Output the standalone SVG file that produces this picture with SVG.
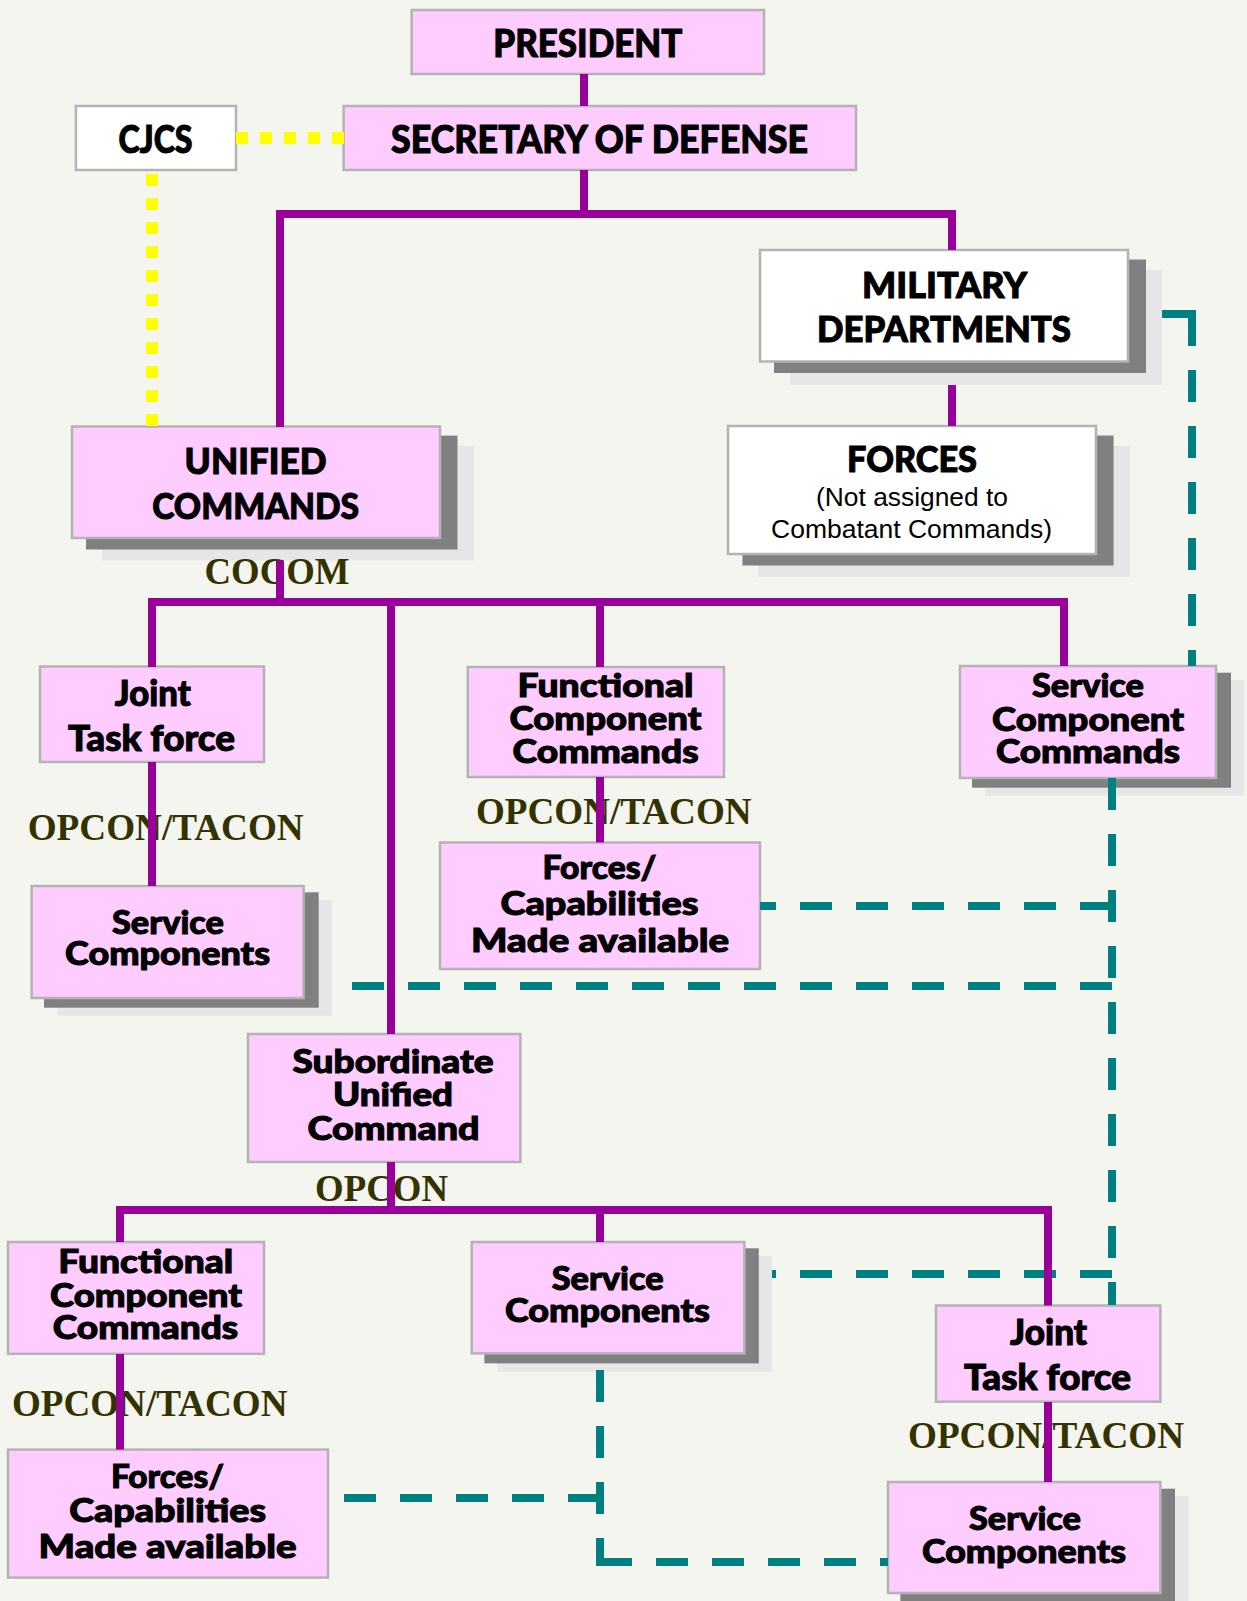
<svg xmlns="http://www.w3.org/2000/svg" width="1247" height="1601" viewBox="0 0 1247 1601">
<style>
.box{fill:#FFCCFF;stroke:#B3B3B3;stroke-width:2.5}
.wbox{fill:#FFFFFF;stroke:#B3B3B3;stroke-width:2.5}
.sh1{fill:#808080}
.sh2{fill:#E6E6E6}
.t{font-family:Lato,'Liberation Sans',sans-serif;font-weight:900;text-anchor:middle;fill:#000;stroke:#000;stroke-width:1}
.big{font-size:37px}
.mid{font-size:36px}
.sm{font-size:33px}
.reg{font-family:'Liberation Sans',Arial,sans-serif;font-size:26px;text-anchor:middle;fill:#000}
.lbl{font-family:'Liberation Serif','Times New Roman',serif;font-weight:bold;font-size:37px;fill:#333300;text-anchor:middle}
.p{fill:none;stroke:#990099;stroke-width:8;stroke-linejoin:miter}
.tl{fill:none;stroke:#008080;stroke-width:8;stroke-dasharray:32 24}
.ts{fill:none;stroke:#008080;stroke-width:8}
.yl{fill:none;stroke:#FFFF00;stroke-width:12;stroke-dasharray:12 12}
</style>
<rect width="1247" height="1601" fill="#F5F5F0"/>

<g id="president">
<rect class="box" x="411.6" y="10" width="352.4" height="64"/>
<text class="t big" x="587.8" y="56.7" textLength="189" lengthAdjust="spacingAndGlyphs">PRESIDENT</text>
</g>
<g id="secdef">
<rect class="box" x="343.6" y="106" width="512.4" height="64"/>
<text class="t big" x="599.6" y="152.7" textLength="417" lengthAdjust="spacingAndGlyphs">SECRETARY OF DEFENSE</text>
</g>
<g id="cjcs">
<rect class="wbox" x="75.9" y="106" width="160.1" height="64"/>
<text class="t big" x="155.6" y="152.7" textLength="74" lengthAdjust="spacingAndGlyphs">CJCS</text>
</g>
<g id="military">
<rect class="sh2" x="790" y="270" width="372" height="115"/>
<rect class="sh1" x="774" y="259.5" width="372" height="113.5"/>
<rect class="wbox" x="760" y="250" width="368" height="111.5"/>
<text class="t mid" x="944.6" y="297.7" textLength="165" lengthAdjust="spacingAndGlyphs">MILITARY</text>
<text class="t mid" x="944" y="341.7" textLength="254" lengthAdjust="spacingAndGlyphs">DEPARTMENTS</text>
</g>
<g id="forces">
<rect class="sh2" x="758" y="446" width="372" height="131"/>
<rect class="sh1" x="742.4" y="435.5" width="371.2" height="130"/>
<rect class="wbox" x="728" y="426" width="368" height="128"/>
<text class="t mid" x="912" y="471.5" textLength="130" lengthAdjust="spacingAndGlyphs">FORCES</text>
<text class="reg" x="912" y="506" textLength="192" lengthAdjust="spacingAndGlyphs">(Not assigned to</text>
<text class="reg" x="911.6" y="537.7" textLength="281" lengthAdjust="spacingAndGlyphs">Combatant Commands)</text>
</g>
<g id="unified">
<rect class="sh2" x="102" y="446" width="372" height="114.5"/>
<rect class="sh1" x="86" y="435.6" width="371.5" height="113.9"/>
<rect class="box" x="72" y="426.5" width="368" height="111.5"/>
<text class="t mid" x="255.6" y="474" textLength="142" lengthAdjust="spacingAndGlyphs">UNIFIED</text>
<text class="t mid" x="255.7" y="518.6" textLength="207" lengthAdjust="spacingAndGlyphs">COMMANDS</text>
</g>
<g id="jtf1">
<rect class="box" x="40" y="666.5" width="224" height="95.5"/>
<text class="t mid" x="152.8" y="705.6" textLength="76" lengthAdjust="spacingAndGlyphs">Joint</text>
<text class="t mid" x="151.6" y="750.7" textLength="167" lengthAdjust="spacingAndGlyphs">Task force</text>
</g>
<g id="fcc1">
<rect class="box" x="467.8" y="667" width="256.2" height="110"/>
<text class="t sm" x="605.6" y="696.6" textLength="176" lengthAdjust="spacingAndGlyphs">Functional</text>
<text class="t sm" x="605.6" y="730" textLength="192" lengthAdjust="spacingAndGlyphs">Component</text>
<text class="t sm" x="605.6" y="763" textLength="186" lengthAdjust="spacingAndGlyphs">Commands</text>
</g>
<g id="scc">
<rect class="sh2" x="985" y="680" width="259" height="115.7"/>
<rect class="sh1" x="972" y="672.7" width="259" height="115"/>
<rect class="box" x="960" y="666" width="256" height="112"/>
<text class="t sm" x="1088" y="696.7" textLength="112" lengthAdjust="spacingAndGlyphs">Service</text>
<text class="t sm" x="1088" y="730.7" textLength="192" lengthAdjust="spacingAndGlyphs">Component</text>
<text class="t sm" x="1088" y="763" textLength="184" lengthAdjust="spacingAndGlyphs">Commands</text>
</g>
<g id="sc1">
<rect class="sh2" x="57.3" y="900" width="274.7" height="115.7"/>
<rect class="sh1" x="44" y="892.3" width="274.7" height="115.4"/>
<rect class="box" x="31.6" y="886" width="272" height="112"/>
<text class="t sm" x="168" y="933.8" textLength="112" lengthAdjust="spacingAndGlyphs">Service</text>
<text class="t sm" x="167.6" y="965.4" textLength="205" lengthAdjust="spacingAndGlyphs">Components</text>
</g>
<g id="fca1">
<rect class="box" x="440" y="842.5" width="320" height="126.5"/>
<text class="t sm" x="599.5" y="879" textLength="114" lengthAdjust="spacingAndGlyphs">Forces/</text>
<text class="t sm" x="599.5" y="915" textLength="198" lengthAdjust="spacingAndGlyphs">Capabilities</text>
<text class="t sm" x="600" y="951.6" textLength="258" lengthAdjust="spacingAndGlyphs">Made available</text>
</g>
<g id="subunified">
<rect class="box" x="248" y="1034" width="272.4" height="128"/>
<text class="t sm" x="393" y="1072.8" textLength="201" lengthAdjust="spacingAndGlyphs">Subordinate</text>
<text class="t sm" x="393" y="1106" textLength="120" lengthAdjust="spacingAndGlyphs">Unified</text>
<text class="t sm" x="393.6" y="1139.5" textLength="172" lengthAdjust="spacingAndGlyphs">Command</text>
</g>
<g id="fcc2">
<rect class="box" x="8" y="1242" width="256" height="111.8"/>
<text class="t sm" x="145.7" y="1272.5" textLength="175" lengthAdjust="spacingAndGlyphs">Functional</text>
<text class="t sm" x="146" y="1306.6" textLength="192" lengthAdjust="spacingAndGlyphs">Component</text>
<text class="t sm" x="145.5" y="1339" textLength="185.5" lengthAdjust="spacingAndGlyphs">Commands</text>
</g>
<g id="sc2">
<rect class="sh2" x="497.4" y="1256" width="274.6" height="115.8"/>
<rect class="sh1" x="484.4" y="1248.3" width="274.4" height="115.1"/>
<rect class="box" x="471.7" y="1242" width="272.7" height="111.4"/>
<text class="t sm" x="607.7" y="1289.5" textLength="112" lengthAdjust="spacingAndGlyphs">Service</text>
<text class="t sm" x="607.5" y="1321.5" textLength="205" lengthAdjust="spacingAndGlyphs">Components</text>
</g>
<g id="fca2">
<rect class="box" x="8" y="1449.6" width="320" height="128"/>
<text class="t sm" x="167.5" y="1487.5" textLength="113" lengthAdjust="spacingAndGlyphs">Forces/</text>
<text class="t sm" x="167.7" y="1522" textLength="197" lengthAdjust="spacingAndGlyphs">Capabilities</text>
<text class="t sm" x="167.6" y="1557.7" textLength="258" lengthAdjust="spacingAndGlyphs">Made available</text>
</g>
<g id="jtf2">
<rect class="box" x="936" y="1305.5" width="224.4" height="96.2"/>
<text class="t mid" x="1048.6" y="1345" textLength="77" lengthAdjust="spacingAndGlyphs">Joint</text>
<text class="t mid" x="1047.6" y="1390" textLength="167" lengthAdjust="spacingAndGlyphs">Task force</text>
</g>
<g id="sc3">
<rect class="sh2" x="913.7" y="1496" width="274.6" height="120"/>
<rect class="sh1" x="900.4" y="1488.7" width="274.6" height="120"/>
<rect class="box" x="888" y="1482" width="272.4" height="111"/>
<text class="t sm" x="1025" y="1529.5" textLength="112" lengthAdjust="spacingAndGlyphs">Service</text>
<text class="t sm" x="1024" y="1562.5" textLength="204" lengthAdjust="spacingAndGlyphs">Components</text>
</g>

<g id="connectors">
<g id="labels">
<text class="lbl" x="277" y="584" textLength="145" lengthAdjust="spacingAndGlyphs">COCOM</text>
<text class="lbl" x="165.7" y="840" textLength="276" lengthAdjust="spacingAndGlyphs">OPCON/TACON</text>
<text class="lbl" x="613.8" y="824" textLength="275.6" lengthAdjust="spacingAndGlyphs">OPCON/TACON</text>
<text class="lbl" x="381.5" y="1200.5" textLength="133" lengthAdjust="spacingAndGlyphs">OPCON</text>
<text class="lbl" x="149.7" y="1416" textLength="275.6" lengthAdjust="spacingAndGlyphs">OPCON/TACON</text>
<text class="lbl" x="1046" y="1447.7" textLength="276" lengthAdjust="spacingAndGlyphs">OPCON/TACON</text>
</g>
<g id="yellow">
<path class="yl" d="M236,138 H344"/>
<path class="yl" d="M152,174 V426"/>
</g>
<g id="teal">
<path class="ts" d="M1162,314 H1196"/>
<path class="tl" d="M1192,314 V666"/>
<path class="tl" d="M1112,778 V1305"/>
<path class="tl" d="M1112,906 H760"/>
<path class="tl" d="M1112,986 H352"/>
<path class="tl" d="M1112,1274 H772"/>
<path class="tl" d="M600,1498 H328"/>
<path class="tl" d="M600,1370 V1566"/>
<path class="tl" d="M888,1562 H596" stroke-dashoffset="24"/>
</g>
<g id="purple">
<path class="p" d="M584,74 V106"/>
<path class="p" d="M280,427 V214 H952 V250"/>
<path class="p" d="M584,170 V214"/>
<path class="p" d="M952,385 V426"/>
<path class="p" d="M280,560.5 V602"/>
<path class="p" d="M152,667 V602 H1064 V666"/>
<path class="p" d="M391,602 V1034"/>
<path class="p" d="M600,602 V667"/>
<path class="p" d="M152,762 V886"/>
<path class="p" d="M600,777 V842.5"/>
<path class="p" d="M391,1162 V1210"/>
<path class="p" d="M120,1242 V1210 H1048 V1305.5"/>
<path class="p" d="M600,1210 V1242"/>
<path class="p" d="M120,1354 V1449.6"/>
<path class="p" d="M1048,1402 V1482"/>
</g>
</g>
</svg>
